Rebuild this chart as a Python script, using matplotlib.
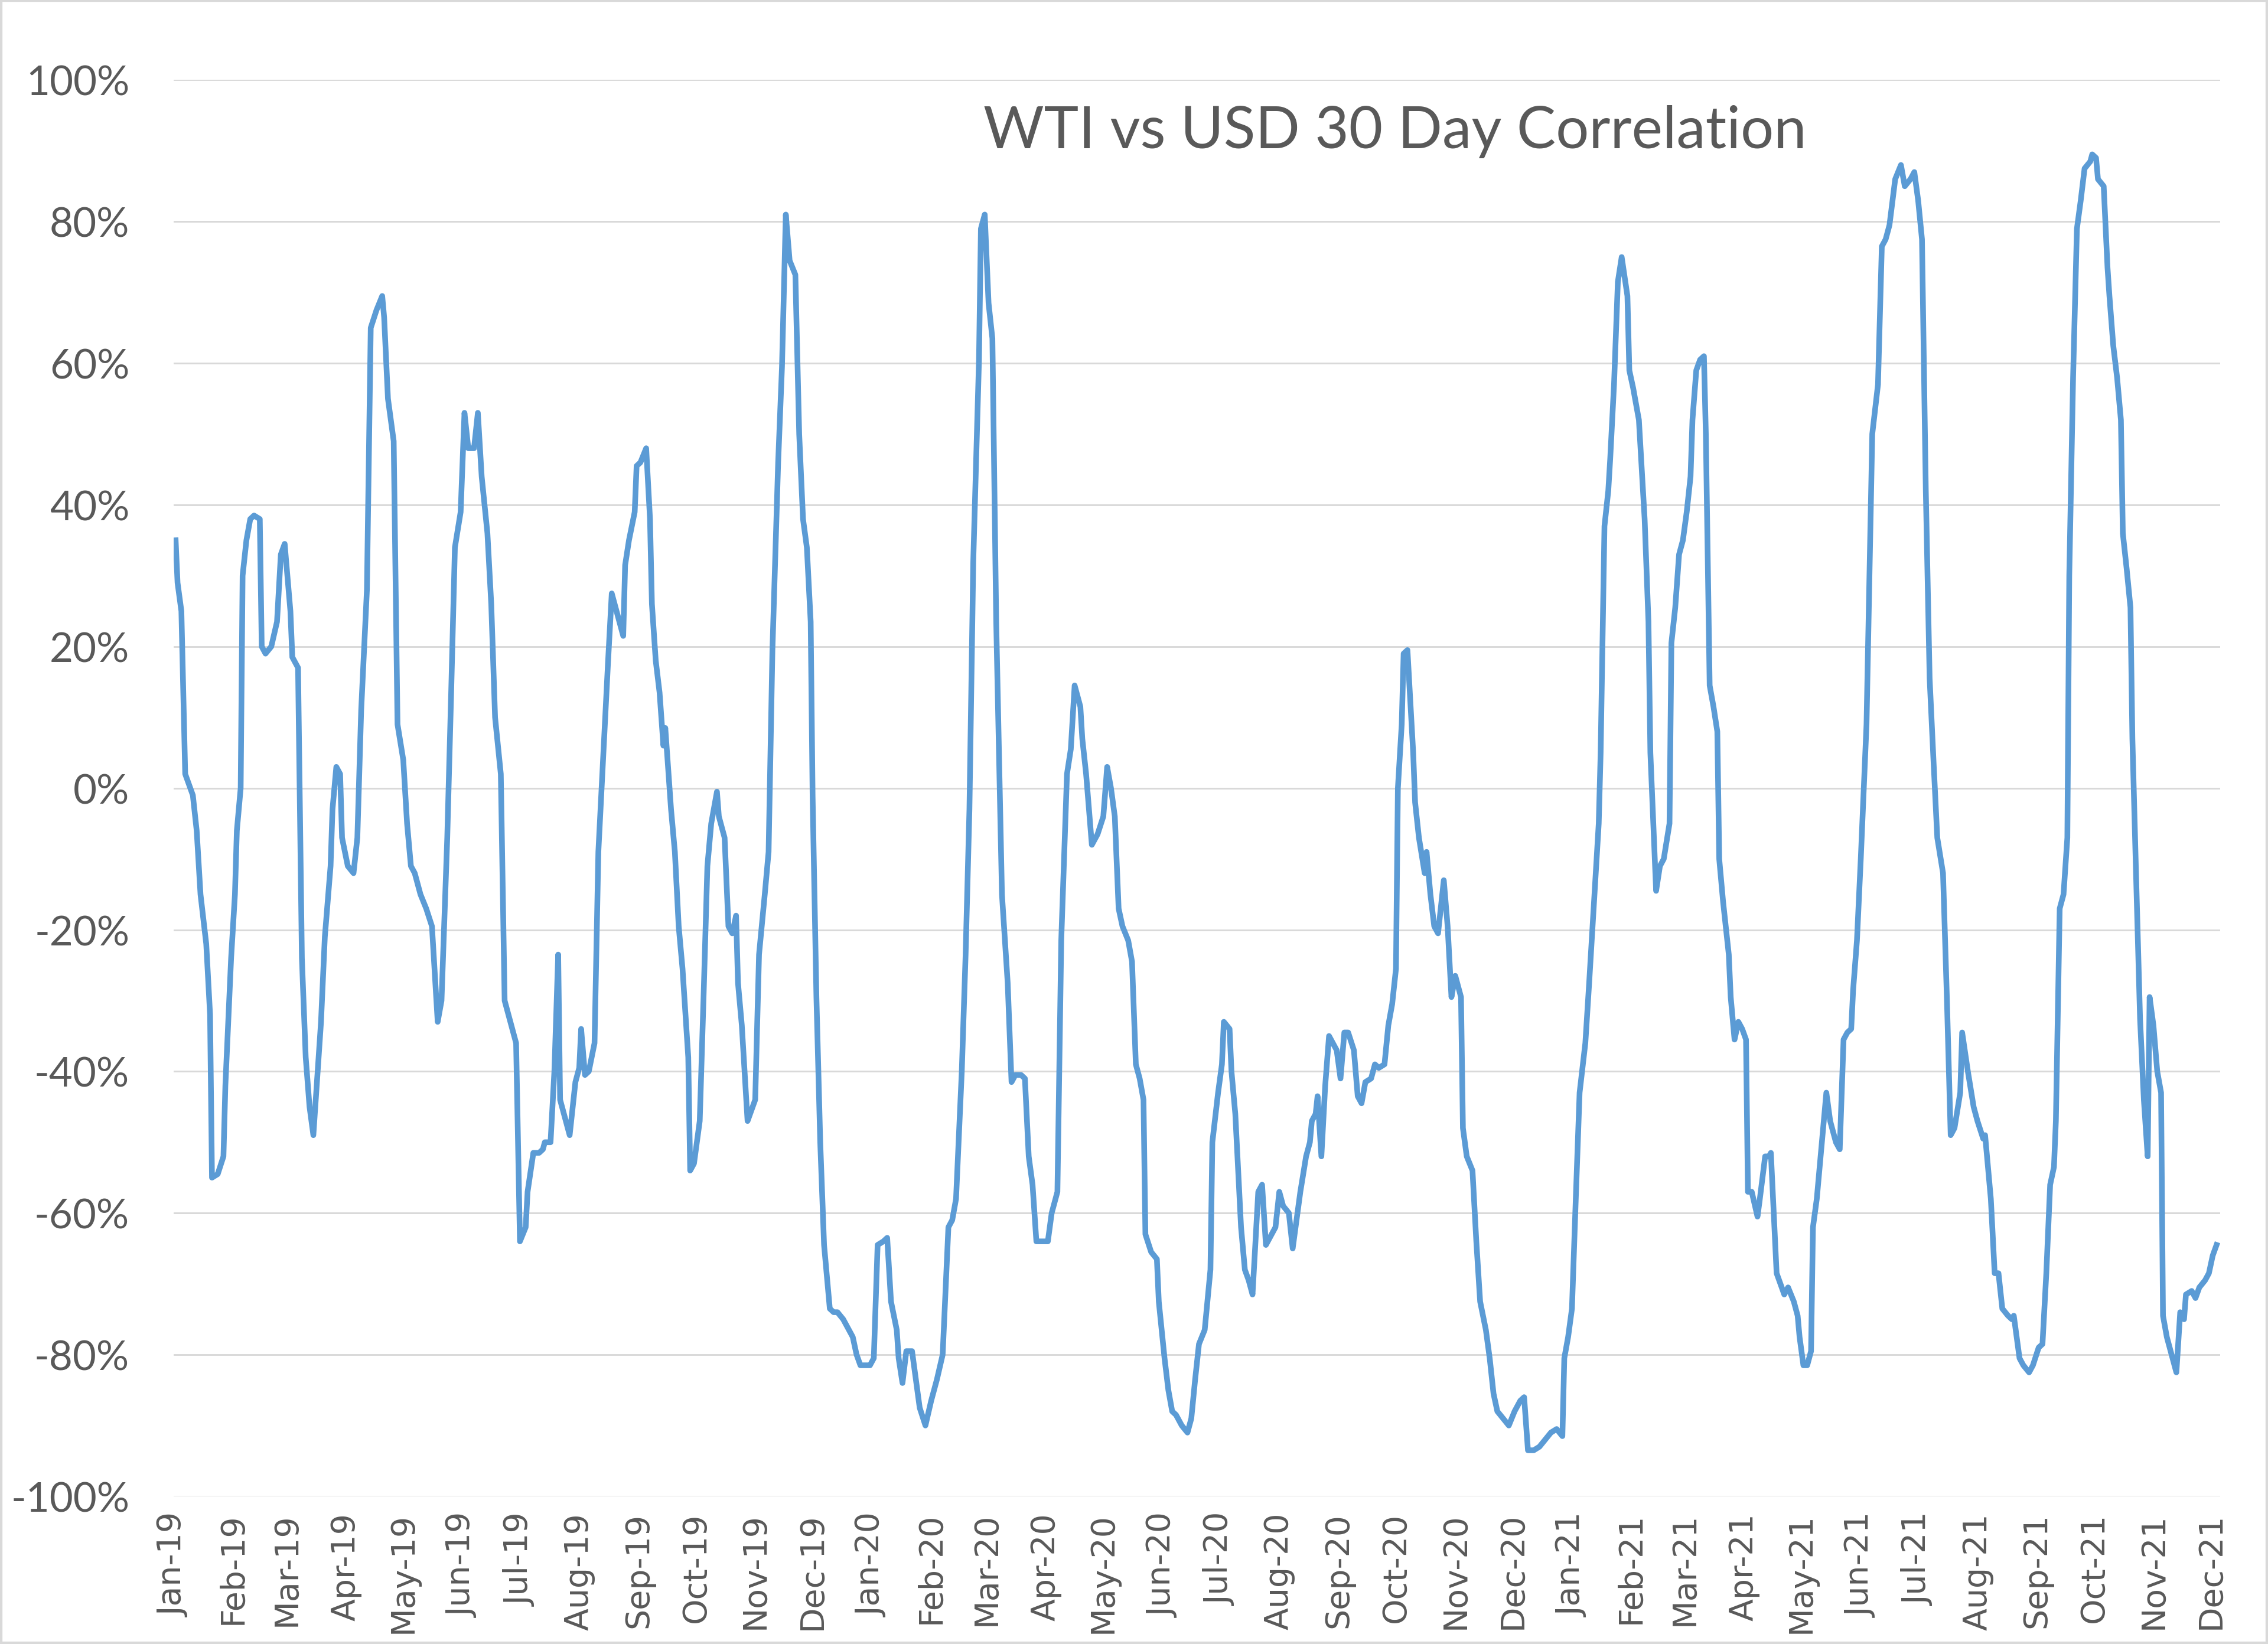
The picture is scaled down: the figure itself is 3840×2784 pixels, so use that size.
import matplotlib
matplotlib.use("Agg")
import matplotlib.pyplot as plt
from matplotlib.ticker import MultipleLocator, FuncFormatter
import pandas as pd

# WTI vs USD 30 day correlation
# x = calendar days since 1 Jan 2019, y = correlation in %
days = [
    1, 2, 4, 6, 10, 12, 14, 17, 19, 20, 23, 26, 27, 30, 32, 33, 35, 36, 38, 40, 42, 45, 46, 48, 51, 54, 56, 58, 61, 62,
    65, 67, 69, 71, 73, 77, 79, 82, 83, 85, 87, 88, 91, 94, 96, 98, 101, 103, 106, 109, 110, 112, 115, 117, 120, 122, 124, 126, 129, 132,
    135, 138, 140, 143, 145, 147, 150, 152, 154, 157, 159, 161, 164, 166, 168, 171, 173, 176, 179, 181, 184, 185, 188, 191, 193, 194, 197, 199, 201, 202,
    204, 207, 210, 212, 213, 215, 217, 220, 222, 225, 227, 229, 232, 235, 236, 238, 241, 242, 244, 247, 249, 250, 252, 254, 256, 257, 260, 262, 264, 266,
    269, 270, 272, 275, 277, 279, 281, 284, 285, 288, 290, 292, 294, 295, 297, 300, 302, 304, 306, 309, 311, 313, 316, 318, 320, 322, 325, 327, 329, 331,
    333, 334, 336, 338, 340, 343, 345, 347, 350, 353, 355, 357, 359, 362, 364, 366, 368, 371, 373, 375, 378, 379, 381, 383, 386, 388, 390, 393, 396, 399,
    402, 405, 407, 409, 412, 414, 416, 418, 421, 422, 424, 426, 428, 430, 433, 436, 438, 440, 443, 445, 447, 449, 451, 454, 457, 459, 462, 464, 467, 469,
    471, 474, 475, 477, 480, 483, 486, 488, 490, 492, 494, 496, 499, 501, 503, 505, 507, 508, 511, 514, 515, 518, 520, 522, 524, 527, 530, 532, 534, 536,
    539, 542, 543, 546, 548, 549, 552, 553, 555, 558, 560, 562, 564, 567, 569, 571, 574, 576, 578, 580, 583, 585, 587, 589, 592, 594, 595, 597, 598, 600,
    602, 604, 606, 608, 610, 612, 614, 617, 619, 621, 623, 626, 628, 630, 633, 635, 637, 639, 640, 642, 643, 645, 648, 649, 651, 654, 655, 657, 659, 661,
    664, 666, 668, 670, 673, 674, 676, 679, 681, 683, 686, 688, 690, 692, 695, 698, 701, 704, 706, 708, 711, 714, 717, 720, 723, 726, 727, 729, 731, 733,
    735, 738, 740, 742, 745, 746, 748, 750, 751, 753, 755, 757, 760, 761, 763, 766, 769, 771, 772, 775, 777, 779, 782, 783, 785, 787, 789, 791, 793, 794,
    796, 798, 800, 801, 803, 805, 807, 808, 810, 813, 814, 816, 818, 820, 822, 823, 825, 828, 829, 832, 834, 835, 838, 840, 842, 844, 847, 849, 850, 852,
    854, 856, 857, 859, 861, 864, 866, 869, 871, 873, 875, 877, 878, 880, 882, 885, 888, 891, 893, 895, 897, 900, 903, 905, 908, 910, 912, 914, 916, 918,
    920, 922, 925, 927, 929, 931, 934, 935, 938, 941, 943, 946, 947, 950, 952, 954, 956, 959, 961, 962, 965, 967, 970, 972, 975, 977, 979, 981, 983, 984,
    986, 988, 990, 991, 993, 995, 997, 999, 1002, 1003, 1005, 1006, 1009, 1011, 1012, 1014, 1016, 1018, 1019, 1021, 1023, 1024, 1026, 1028, 1030, 1032, 1033, 1035, 1037, 1039,
    1040, 1042, 1045, 1047, 1049, 1051, 1052, 1055, 1057, 1059, 1062, 1064, 1066, 1068,
]
corr = [
    35, 29, 25, 2, -1, -6, -15, -22, -32, -55, -54.5, -52, -42, -24, -15, -6, 0, 30, 35, 38, 38.5, 38, 20, 19, 20, 23.5, 33, 34.5, 25, 18.5,
    17, -24, -38, -45, -49, -33, -21, -11, -3, 3, 2, -7, -11, -12, -7, 11, 28, 65, 67.5, 69.5, 66.5, 55, 49, 9, 4, -5, -11, -12, -15, -17,
    -19.5, -33, -30, -7, 13, 34, 39, 53, 48, 48, 53, 44, 36, 26, 10, 2, -30, -33, -36, -64, -62, -57, -51.5, -51.5, -51, -50, -50, -40, -23.5, -44,
    -46, -49, -41.5, -39.5, -34, -40.5, -40, -36, -9, 7, 17.5, 27.5, 24.5, 21.5, 31.5, 35, 39, 45.5, 46, 48, 38, 26, 18, 13.5, 6, 8.5, -3, -9, -19.5, -25.5,
    -38, -54, -53, -47, -29.5, -11, -5, -0.5, -4, -7, -19.5, -20.5, -18, -27.5, -33.5, -47, -45.5, -44, -23.5, -15, -9, 19.5, 46, 59.5, 81, 74.5, 72.5, 50, 38, 34,
    23.5, -1, -29.5, -50, -64.5, -73.5, -74, -74, -75, -76.5, -77.5, -80, -81.5, -81.5, -81.5, -80.5, -64.5, -64, -63.5, -72.5, -76.5, -80.5, -84, -79.5, -79.5, -83.5, -87.5, -90, -86.5, -83.5,
    -80, -62, -61, -58, -40, -23.5, -3, 32, 60.5, 79, 81, 68.5, 63.5, 23.5, -15, -27.5, -41.5, -40.5, -40.5, -41, -52, -56, -64, -64, -64, -60, -57, -21.5, 2, 5.5,
    14.5, 11.5, 7, 2, -8, -6.5, -4, 3, 0, -4, -17, -19.5, -21.5, -24.5, -39, -41, -44, -63, -65.5, -66.5, -72.5, -80.5, -85, -88, -88.5, -90, -91, -89, -83.5, -78.5,
    -76.5, -68, -50, -43, -39, -33, -34, -40, -46, -62, -68, -69.5, -71.5, -57, -56, -64.5, -63, -62, -57, -59, -60, -65, -61, -57, -52, -50, -47, -46, -43.5, -52,
    -42, -35, -36, -37, -41, -34.5, -34.5, -37, -43.5, -44.5, -41.5, -41, -39, -39.5, -39, -33.5, -30.5, -25.5, 0, 9, 19, 19.5, 5, -2, -7, -12, -9, -15, -19.5, -20.5,
    -13, -19.5, -29.5, -26.5, -29.5, -48, -52, -54, -64, -72.5, -76.5, -80.5, -85.5, -88, -89, -90, -88, -86.5, -86, -93.5, -93.5, -93, -92, -91, -90.5, -91.5, -80.5, -77.5, -73.5, -58,
    -43, -36, -27.5, -18.5, -5, 5, 37, 42, 46.5, 57, 71.5, 75, 69.5, 59, 56.5, 52, 38, 23.5, 5, -14.5, -11, -10, -5, 20.5, 25.5, 33, 35, 39, 44, 52,
    59, 60.5, 61, 50, 14.5, 11.5, 8, -10, -16, -23.5, -29.5, -35.5, -33, -34, -35.5, -57, -57, -60.5, -58.5, -52, -52, -51.5, -68.5, -70, -71.5, -70.5, -72.5, -74.5, -77.5, -81.5,
    -81.5, -79.5, -62, -58, -52, -43, -47, -50, -51, -35.5, -34.5, -34, -28.5, -21.5, -10, 9, 50, 57, 76.5, 77.5, 79.5, 86, 88, 85, 86, 87, 83, 77.5, 42, 15.5,
    4, -7, -12, -29.5, -49, -48, -43, -34.5, -40, -45, -47, -49.5, -49, -58, -68.5, -68.5, -73.5, -74.5, -75, -74.5, -80.5, -81.5, -82.5, -81.5, -79, -78.5, -68.5, -56, -53.5, -47,
    -17, -15, -7, 30, 58, 79, 83, 87.5, 88.5, 89.5, 89, 86, 85, 73.5, 69.5, 62.5, 58, 52, 36, 31, 25.5, 7, -13, -32.5, -44, -52, -29.5, -33.5, -40, -43,
    -74.5, -77.5, -80.5, -82.5, -74, -75, -71.5, -71, -72, -70.5, -69.5, -68.5, -66, -64.5,
]
title = "WTI vs USD 30 Day Correlation"

start = pd.Timestamp("2019-01-01")
dates = start + pd.to_timedelta(days, unit="D")
months = pd.date_range("2019-01-01", "2021-12-01", freq="MS")

plt.rcParams["font.family"] = ["Lato", "DejaVu Sans"]

fig = plt.figure(figsize=(12.8, 9.2833), dpi=300)
ax = fig.add_axes([0.0766, 0.0898, 0.9024, 0.8612])

ax.plot(dates, corr, color="#5B9BD5", lw=2.3, solid_joinstyle="round")

ax.set_ylim(-100, 100)
ax.set_xlim(start, start + pd.Timedelta(days=1070))
ax.yaxis.set_major_locator(MultipleLocator(20))
ax.yaxis.set_major_formatter(FuncFormatter(lambda v, p: f"{v:.0f}%"))
ax.set_xticks(months)
ax.set_xticklabels([m.strftime("%b-%y") for m in months], rotation=90,
                   fontsize=13.3, color="#595959", family="DejaVu Sans")

ax.grid(axis="y", color="#D9D9D9", lw=0.7)
ax.set_axisbelow(True)
for s in ax.spines.values():
    s.set_visible(False)
ax.tick_params(length=0)
ax.tick_params(axis="x", pad=6.5)
ax.tick_params(axis="y", pad=18, labelsize=16.6, labelcolor="#595959")

fig.text(0.615, 0.910, title, ha="center", va="baseline", fontsize=23.8,
         color="#595959")

# light chart border
fig.add_artist(plt.Rectangle((0, 0), 1, 1, transform=fig.transFigure, fill=False,
                             edgecolor="#D9D9D9", lw=2))

fig.savefig("out.png", dpi=300)
